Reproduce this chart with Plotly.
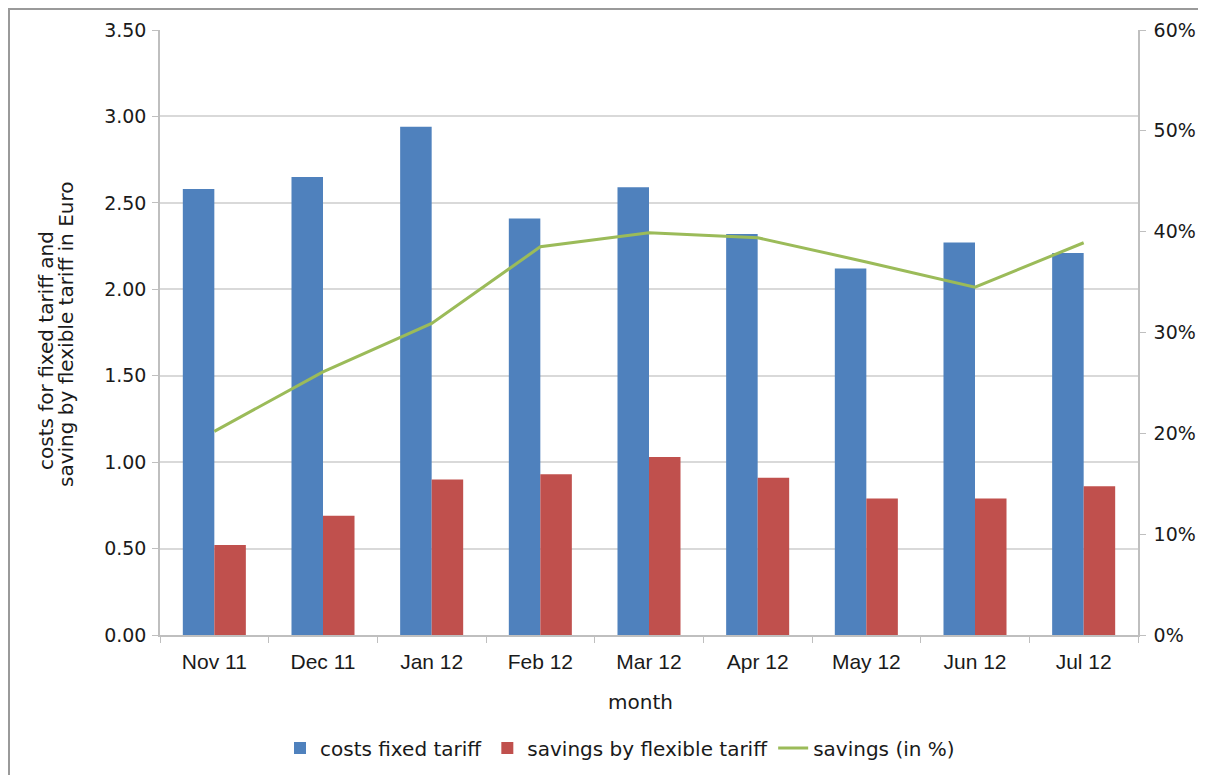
import plotly.graph_objects as go

months = ["Nov 11", "Dec 11", "Jan 12", "Feb 12", "Mar 12", "Apr 12", "May 12", "Jun 12", "Jul 12"]
costs_fixed = [2.58, 2.65, 2.94, 2.41, 2.59, 2.32, 2.12, 2.27, 2.21]
savings_flexible = [0.52, 0.69, 0.90, 0.93, 1.03, 0.91, 0.79, 0.79, 0.86]
savings_pct = [20.2, 26.1, 30.9, 38.5, 39.9, 39.4, 37.0, 34.5, 38.9]

DEJA = "DejaVu Sans, Liberation Sans, Arial, sans-serif"
LIB = "Liberation Sans, Arial, sans-serif"
TXT = "#1a1a1a"
AX = "#bfbfbf"

# figure size (page has an 8px body margin)
W, H = 1198, 767
# plot area in figure pixels
L, R, T, B = 152, 1130, 22, 627
def px_x(p):
    return (p - L) / (R - L)
def px_y(p):
    return (B - p) / (B - T)

fig = go.Figure()
fig.add_trace(go.Bar(x=months, y=costs_fixed, name="costs fixed tariff",
                     marker=dict(color="#4f81bd", line=dict(width=0))))
fig.add_trace(go.Bar(x=months, y=savings_flexible, name="savings by flexible tariff",
                     marker=dict(color="#c0504d", line=dict(width=0))))
fig.add_trace(go.Scatter(x=months, y=savings_pct, name="savings (in %)", yaxis="y2",
                         mode="lines", line=dict(color="#9bbb59", width=3)))

fig.update_layout(
    width=W, height=H,
    margin=dict(l=L, r=W - R, t=T, b=H - B, autoexpand=False),
    paper_bgcolor="white", plot_bgcolor="white",
    font=dict(family=DEJA, size=19, color=TXT),
    barmode="group", bargap=0.42, bargroupgap=0,
    showlegend=True,
    legend=dict(orientation="h", xref="container", x=272 / W, xanchor="left",
                yref="container", y=(H - 740) / H, yanchor="middle",
                font=dict(family=DEJA, size=20, color=TXT), traceorder="normal",
                bgcolor="rgba(0,0,0,0)"),
    xaxis=dict(showgrid=False, showline=True, linecolor=AX, linewidth=1.5,
               ticks="outside", tickson="boundaries", ticklen=6, tickcolor=AX,
               tickfont=dict(family=LIB, size=21, color=TXT), ticklabelstandoff=7,
               automargin=False),
    yaxis=dict(range=[0, 3.5], dtick=0.5, tickformat=".2f", showgrid=True,
               gridcolor="#d9d9d9", gridwidth=1.5, showline=True, linecolor=AX,
               linewidth=1.5, ticks="outside", ticklen=6, tickcolor=AX,
               zeroline=False, tickfont=dict(family=DEJA, size=19, color=TXT),
               ticklabelstandoff=2, automargin=False),
    yaxis2=dict(range=[0, 60], dtick=10, ticksuffix="%", overlaying="y", side="right",
                showgrid=False, showline=True, linecolor=AX, linewidth=1.5,
                ticks="outside", ticklen=6, tickcolor=AX, zeroline=False,
                tickfont=dict(family=DEJA, size=19, color=TXT), ticklabelstandoff=4,
                automargin=False),
    annotations=[
        dict(text="month", x=px_x(632), y=px_y(694), xref="paper", yref="paper",
             showarrow=False, font=dict(family=DEJA, size=20, color=TXT),
             xanchor="center", yanchor="middle"),
        dict(text="costs for fixed tariff and",
             x=px_x(38), y=px_y(343), xref="paper", yref="paper", textangle=-90,
             showarrow=False, font=dict(family=DEJA, size=20, color=TXT),
             xanchor="center", yanchor="middle"),
        dict(text="saving by flexible tariff in Euro",
             x=px_x(58), y=px_y(327), xref="paper", yref="paper", textangle=-90,
             showarrow=False, font=dict(family=DEJA, size=20, color=TXT),
             xanchor="center", yanchor="middle"),
    ],
    shapes=[dict(type="rect", xref="paper", yref="paper",
                 x0=px_x(1), x1=px_x(W + 20), y0=px_y(H + 20), y1=px_y(1),
                 line=dict(color="#9a9a9a", width=2), fillcolor="rgba(0,0,0,0)", layer="below")],
)

fig.write_html("out.html")
